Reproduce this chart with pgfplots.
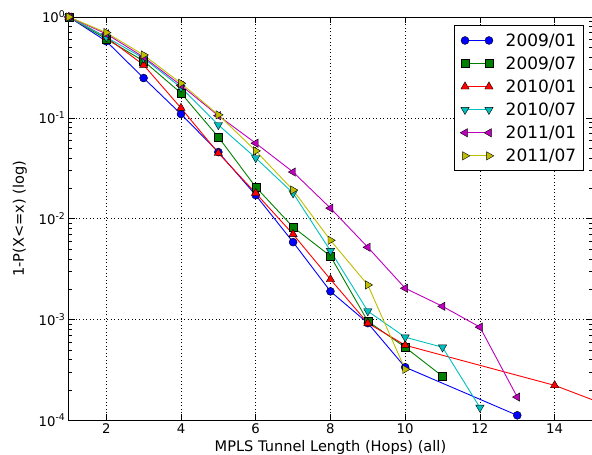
\documentclass[border=0pt]{standalone}
\usepackage{pgfplots}
\pgfplotsset{compat=1.18}
\usepackage{fontspec}
\setmainfont{DejaVu Sans}
\definecolor{mgreen}{rgb}{0,0.5,0}
\definecolor{mcyan}{rgb}{0,0.75,0.75}
\definecolor{mmagenta}{rgb}{0.75,0,0.75}
\definecolor{myellow}{rgb}{0.75,0.75,0}
\begin{document}
\begin{tikzpicture}
\begin{axis}[
    scale only axis,
    width=524pt, height=404pt,
    xmin=1, xmax=15,
    ymode=log, ymin=1e-4, ymax=1,
    xtick={2,4,6,8,10,12,14},
    xticklabels={2,4,6,8,10,12,14},
    ytick={1e-4,1e-3,1e-2,1e-1,1},
    yticklabels={10\textsuperscript{-4},10\textsuperscript{-3},10\textsuperscript{-2},10\textsuperscript{-1},10\textsuperscript{0}},
    minor ytick={2e-4,3e-4,4e-4,5e-4,6e-4,7e-4,8e-4,9e-4,
                 2e-3,3e-3,4e-3,5e-3,6e-3,7e-3,8e-3,9e-3,
                 2e-2,3e-2,4e-2,5e-2,6e-2,7e-2,8e-2,9e-2,
                 2e-1,3e-1,4e-1,5e-1,6e-1,7e-1,8e-1,9e-1},
    tick align=inside,
    major tick length=6pt, minor tick length=3pt,
    tick style={black, line width=0.5pt},
    grid=major,
    major grid style={black, line width=0.5pt, dash pattern=on 1pt off 2.5pt},
    ticklabel style={font=\fontsize{13.3}{15}\selectfont},
    xlabel={MPLS Tunnel Length (Hops) (all)},
    ylabel={1-P(X<=x) (log)},
    label style={font=\fontsize{14.6}{16}\selectfont},
    xlabel style={at={(axis description cs:0.5,0)}, anchor=base, yshift=-31pt},
    ylabel style={yshift=5pt},
    axis line style={line width=0.8pt},
    every axis plot/.append style={line width=0.9pt},
    legend style={at={(0.984,0.98)}, anchor=north east, draw=black, line width=0.8pt,
        font=\fontsize{17}{19}\selectfont, row sep=5pt, inner xsep=6pt, inner ysep=6pt,
        nodes={inner xsep=1pt}},
    legend cell align=left,
    legend image code/.code={
        \draw[mark repeat=2,mark phase=1] plot coordinates {(0pt,0pt) (12pt,0pt) (24pt,0pt)};},
]
\addplot[blue, mark=*, mark size=4pt, mark options={draw=black, fill=blue, line width=0.4pt}]
  coordinates {(1,1) (2,0.575) (3,0.248) (4,0.109) (5,0.0457) (6,0.0171) (7,0.00585) (8,0.0019) (9,0.00092) (10,0.000336) (13,0.000112)};
\addplot[mgreen, mark=square*, mark size=4pt, mark options={draw=black, fill=mgreen, line width=0.4pt}]
  coordinates {(1,1) (2,0.605) (3,0.366) (4,0.176) (5,0.0644) (6,0.0206) (7,0.00824) (8,0.00425) (9,0.00096) (10,0.00053) (11,0.000273)};
\addplot[red, mark=triangle*, mark size=4.8pt, mark options={draw=black, fill=red, line width=0.4pt}]
  coordinates {(1,1) (2,0.63) (3,0.334) (4,0.125) (5,0.0447) (6,0.0179) (7,0.0070) (8,0.0025) (9,0.00092) (10,0.000555) (14,0.000222) (16,0.000116)};
\addplot[mcyan, mark=triangle*, mark size=4.8pt, mark options={draw=black, fill=mcyan, line width=0.4pt, rotate=180}]
  coordinates {(1,1) (2,0.63) (3,0.39) (4,0.20) (5,0.085) (6,0.040) (7,0.0179) (8,0.0048) (9,0.00121) (10,0.000667) (11,0.00053) (12,0.000134)};
\addplot[mmagenta, mark=triangle*, mark size=4.8pt, mark options={draw=black, fill=mmagenta, line width=0.4pt, rotate=90}]
  coordinates {(1,1) (2,0.68) (3,0.40) (4,0.21) (5,0.105) (6,0.056) (7,0.029) (8,0.0127) (9,0.0052) (10,0.00204) (11,0.00135) (12,0.00084) (13,0.00017)};
\addplot[myellow, mark=triangle*, mark size=4.8pt, mark options={draw=black, fill=myellow, line width=0.4pt, rotate=-90}]
  coordinates {(1,1) (2,0.70) (3,0.42) (4,0.22) (5,0.107) (6,0.047) (7,0.0192) (8,0.0061) (9,0.0022) (10,0.00032)};
\legend{\hspace{11pt}2009/01, \hspace{11pt}2009/07, \hspace{11pt}2010/01, \hspace{11pt}2010/07, \hspace{11pt}2011/01, \hspace{11pt}2011/07}
\end{axis}
\pgfresetboundingbox
\path (current axis.south west) ++(-69pt,-34pt) rectangle ([yshift=17pt]current axis.north east);
\end{tikzpicture}
\end{document}
